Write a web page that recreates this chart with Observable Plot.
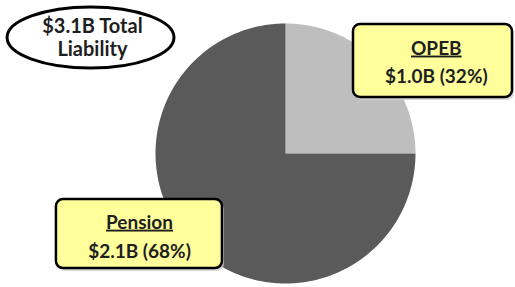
<!DOCTYPE html>
<html>
<head>
<meta charset="utf-8">
<script src="https://cdn.jsdelivr.net/npm/d3@7"></script>
<script src="https://cdn.jsdelivr.net/npm/@observablehq/plot@0.6"></script>
<style>
  html, body { margin: 0; padding: 0; background: #fff; }
  svg { display: block; }
</style>
</head>
<body>
<div id="chart"></div>
<script>
// ---- data ----
const categories = ["OPEB", "Pension"];
const amounts = ["$1.0B", "$2.1B"];
const percentLabels = ["32%", "68%"];
// slice shares as drawn in the picture (the pie shows OPEB as a quarter)
const sliceShares = [25, 75];
const totalLabel = ["$3.1B Total", "Liability"];

// ---- styles / layout (pie unit coordinates: radius = 1) ----
const sliceColors = {OPEB: "#bebebe", Pension: "#5a5a5a"};
const font = "Lato, 'Open Sans', sans-serif";
const boxLayout = {
  OPEB:    {x1: 0.523, x2: 1.746, y1: 0.431, y2: 0.992, tx: 1.160, ty1: 0.808, ty2: 0.592},
  Pension: {x1: -1.762, x2: -0.485, y1: -0.885, y2: -0.354, tx: -1.123, ty1: -0.531, ty2: -0.760}
};
const ellipseLayout = {x1: -2.138, x2: -0.854, y1: 0.654, y2: 1.123, tx: -1.485, ty: [0.977, 0.8]};

// ---- slice polygons from the pie layout ----
const arcs = d3.pie().sort(null).value(d => d.share)(
  categories.map((c, i) => ({name: c, share: sliceShares[i]}))
);
const slicePts = [];
for (const a of arcs) {
  const name = a.data.name;
  slicePts.push({name, x: 0, y: 0});
  const steps = Math.max(2, Math.ceil((a.endAngle - a.startAngle) / (Math.PI / 180)));
  for (let k = 0; k <= steps; k++) {
    const t = a.startAngle + (a.endAngle - a.startAngle) * k / steps;
    slicePts.push({name, x: Math.sin(t), y: Math.cos(t)});
  }
  slicePts.push({name, x: 0, y: 0});
}

const boxes = categories.map((c, i) => ({name: c, ...boxLayout[c]}));
const titleTexts = categories.map(c => ({text: c, x: boxLayout[c].tx, y: boxLayout[c].ty1}));
const valueTexts = categories.map((c, i) => ({text: `${amounts[i]} (${percentLabels[i]})`, x: boxLayout[c].tx, y: boxLayout[c].ty2}));
const totalTexts = totalLabel.map((t, i) => ({text: t, x: ellipseLayout.tx, y: ellipseLayout.ty[i]}));

const plot = Plot.plot({
  width: 515,
  height: 287,
  marginLeft: 155,
  marginRight: 100,
  marginTop: 23,
  marginBottom: 4,
  x: {domain: [-1, 1], axis: null},
  y: {domain: [-1, 1], axis: null},
  style: {fontFamily: font, background: "#fff"},
  marks: [
    Plot.line(slicePts, {x: "x", y: "y", z: "name", fill: d => sliceColors[d.name], stroke: "none", curve: "linear"}),
    // ellipse around total
    Plot.rect([ellipseLayout], {x1: "x1", x2: "x2", y1: "y1", y2: "y2", rx: 83.5, ry: 30.5, fill: "#fff", stroke: "#000", strokeWidth: 3}),
    Plot.text(totalTexts, {x: "x", y: "y", text: "text", fontSize: 20, fontWeight: "bold", fill: "#1e1e1e"}),
    // box shadows
    Plot.rect(boxes, {x1: "x1", x2: "x2", y1: "y1", y2: "y2", rx: 7, fill: "#cfcfcf", dx: 2, dy: 3, opacity: 0.8}),
    Plot.rect(boxes, {x1: "x1", x2: "x2", y1: "y1", y2: "y2", rx: 7, fill: "#ffff9c", stroke: "#000", strokeWidth: 2.5}),
    Plot.text(titleTexts, {x: "x", y: "y", text: "text", fontSize: 19, fontWeight: "bold", fill: "#1e1e1e", ariaDescription: "slice-title"}),
    Plot.text(valueTexts, {x: "x", y: "y", text: "text", fontSize: 19, fontWeight: "bold", fill: "#1e1e1e"})
  ]
});
plot.querySelectorAll('[aria-description="slice-title"] text').forEach(t => {
  t.setAttribute("text-decoration", "underline");
  t.style.textDecoration = "underline";
});
document.getElementById("chart").appendChild(plot);
</script>
</body>
</html>
